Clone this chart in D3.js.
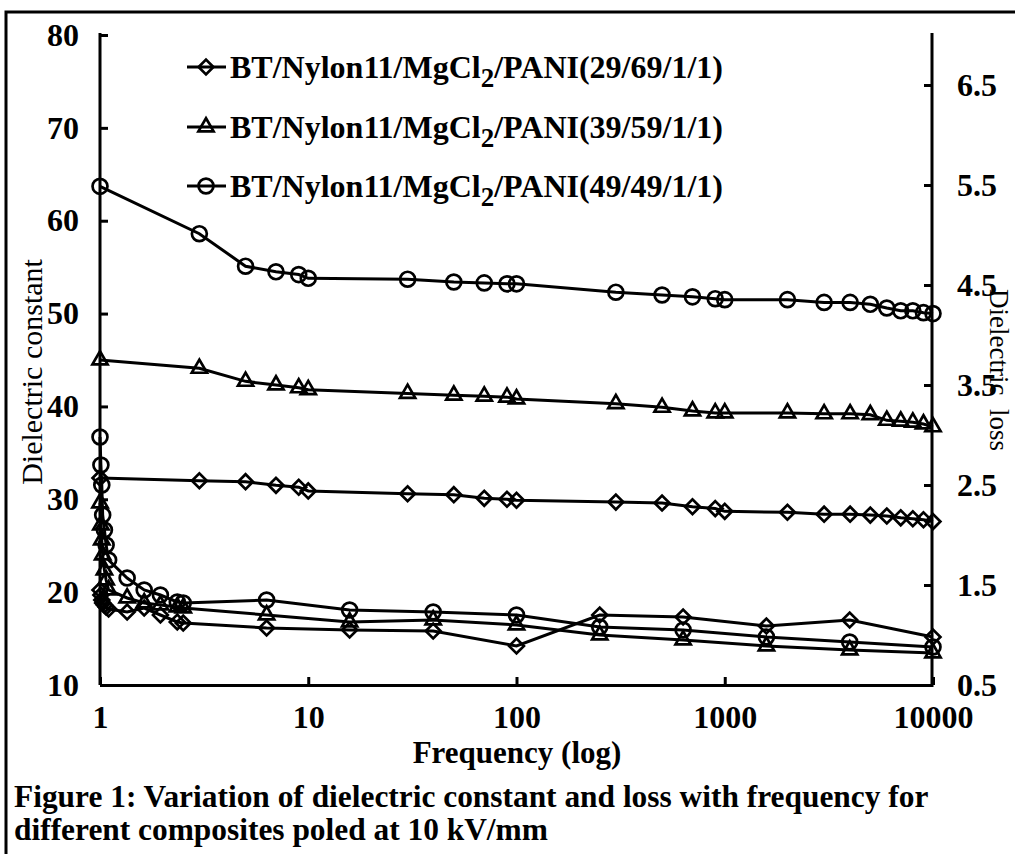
<!DOCTYPE html>
<html>
<head>
<meta charset="utf-8">
<title>Dielectric constant and loss vs frequency</title>
<script src="https://d3js.org/d3.v7.min.js"></script>
<style>
  body { margin: 0; background: #fff; }
  text { font-family: "Liberation Serif", "Times New Roman", serif; fill: #000; }
</style>
</head>
<body>
<script>
// dielectric constant (left axis)
const dcFreq = [1, 3, 5, 7, 9, 10, 30, 50, 70, 90, 100, 300, 500, 700, 900, 1000,
                2000, 3000, 4000, 5000, 6000, 7000, 8000, 9000, 10000];
const dc29 = [32.3, 32.0, 31.9, 31.5, 31.3, 30.9, 30.6, 30.5, 30.1, 30.0, 29.9, 29.7, 29.6,
              29.2, 29.0, 28.7, 28.6, 28.4, 28.4, 28.3, 28.2, 28.0, 27.9, 27.8, 27.6];
const dc39 = [45.0, 44.1, 42.7, 42.3, 42.0, 41.8, 41.4, 41.2, 41.1, 41.0, 40.8, 40.3, 39.9,
              39.5, 39.3, 39.3, 39.3, 39.2, 39.2, 39.1, 38.5, 38.4, 38.3, 38.1, 37.8];
const dc49 = [63.7, 58.6, 55.1, 54.5, 54.2, 53.8, 53.7, 53.4, 53.3, 53.2, 53.2, 52.3, 52.0,
              51.8, 51.6, 51.5, 51.5, 51.2, 51.2, 51.0, 50.6, 50.3, 50.3, 50.1, 50.0];

// dielectric loss (right axis)
const lossFreq = [1, 1.01, 1.02, 1.03, 1.05, 1.07, 1.1, 1.35, 1.63, 1.95, 2.35, 2.51,
                  6.31, 15.8, 39.8, 100, 251, 631, 1585, 3981, 10000];
const loss29 = [1.45, 1.40, 1.35, 1.32, 1.30, 1.28, 1.26, 1.23, 1.27, 1.20, 1.13, 1.12,
                1.07, 1.05, 1.04, 0.89, 1.20, 1.18, 1.09, 1.15, 0.98];
const loss39 = [2.32, 2.10, 1.95, 1.80, 1.65, 1.55, 1.45, 1.37, 1.32, 1.30, 1.28, 1.27,
                1.20, 1.13, 1.15, 1.10, 1.00, 0.95, 0.89, 0.85, 0.82];
const loss49 = [2.98, 2.70, 2.50, 2.20, 2.05, 1.90, 1.75, 1.57, 1.45, 1.40, 1.33, 1.32,
                1.35, 1.25, 1.23, 1.20, 1.08, 1.05, 0.98, 0.93, 0.88];

const xTicks = [1, 10, 100, 1000, 10000];
const leftTicks = [10, 20, 30, 40, 50, 60, 70, 80];
const rightTicks = [0.5, 1.5, 2.5, 3.5, 4.5, 5.5, 6.5];
const seriesNames = ['29/69/1/1', '39/59/1/1', '49/49/1/1'];

const width = 1015, height = 854;
const svg = d3.select('body').append('svg')
    .attr('width', width)
    .attr('height', height);

// frame
svg.append('path')
    .attr('d', 'M6,854 V12 H1015')
    .attr('fill', 'none')
    .attr('stroke', '#000')
    .attr('stroke-width', 3);

const x = d3.scaleLog().domain([1, 10000]).range([100, 933]);
const yL = d3.scaleLinear().domain([10, 80]).range([685, 35]);
const yR = d3.scaleLinear().domain([0.5, 7.0]).range([685, 35]);

function styleAxis(size) {
    return g => {
        g.select('.domain').attr('stroke-width', 3);
        g.selectAll('.tick line').attr('stroke-width', 3);
        g.selectAll('.tick text')
            .attr('font-family', '"Liberation Serif", serif')
            .attr('font-weight', 'bold')
            .attr('font-size', size);
    };
}

svg.append('g')
    .attr('transform', 'translate(0,685)')
    .call(d3.axisBottom(x).tickValues(xTicks).tickFormat(d3.format('d'))
        .tickSize(-8).tickSizeOuter(0).tickPadding(20))
    .call(styleAxis(32));

svg.append('g')
    .attr('transform', 'translate(100,0)')
    .call(d3.axisLeft(yL).tickValues(leftTicks)
        .tickSize(-8).tickSizeOuter(0).tickPadding(21))
    .call(styleAxis(32))
    .call(g => g.select('.domain').attr('d', 'M0,33V685'));

svg.append('g')
    .attr('transform', 'translate(932,0)')
    .call(d3.axisRight(yR).tickValues(rightTicks).tickFormat(d3.format('.1f'))
        .tickSize(-8).tickSizeOuter(0).tickPadding(25))
    .call(styleAxis(32))
    .call(g => g.select('.domain').attr('d', 'M0,33V685'));

// markers
const circleSym = d3.symbol(d3.symbolCircle, 175);
const triSym = d3.symbol(d3.symbolTriangle, 100);
const diaSym = d3.symbol(d3.symbolSquare, 110);
const shapes = [
    { sym: diaSym, rot: 45 },
    { sym: triSym, rot: 0 },
    { sym: circleSym, rot: 0 }
];

function drawSeries(freq, vals, yScale, shape) {
    const pts = freq.map((f, i) => [f, vals[i]]);
    const line = d3.line().x(d => x(d[0])).y(d => yScale(d[1]));
    svg.append('path')
        .datum(pts)
        .attr('d', line)
        .attr('fill', 'none')
        .attr('stroke', '#000')
        .attr('stroke-width', 3);
    svg.append('g').selectAll('path')
        .data(pts)
        .join('path')
        .attr('d', shape.sym())
        .attr('transform', d => `translate(${x(d[0])},${yScale(d[1])}) rotate(${shape.rot})`)
        .attr('fill', 'none')
        .attr('stroke', '#000')
        .attr('stroke-width', 2.7);
}

drawSeries(lossFreq, loss29, yR, shapes[0]);
drawSeries(lossFreq, loss39, yR, shapes[1]);
drawSeries(lossFreq, loss49, yR, shapes[2]);
drawSeries(dcFreq, dc29, yL, shapes[0]);
drawSeries(dcFreq, dc39, yL, shapes[1]);
drawSeries(dcFreq, dc49, yL, shapes[2]);

// legend
const legendY = [67, 127, 186];
seriesNames.forEach((name, i) => {
    const g = svg.append('g').attr('transform', `translate(0,${legendY[i]})`);
    g.append('line')
        .attr('x1', 187).attr('x2', 226)
        .attr('stroke', '#000').attr('stroke-width', 3);
    g.append('path')
        .attr('d', shapes[i].sym())
        .attr('transform', `translate(206,0) rotate(${shapes[i].rot})`)
        .attr('fill', 'none').attr('stroke', '#000').attr('stroke-width', 2.7);
    const t = g.append('text')
        .attr('x', 230).attr('y', 11)
        .attr('font-weight', 'bold')
        .attr('font-size', 32);
    t.append('tspan').text('BT/Nylon11/MgCl');
    t.append('tspan').attr('dy', 9).attr('font-size', 27).text('2');
    t.append('tspan').attr('dy', -9).text('/PANI(' + name + ')');
});

// axis titles
svg.append('text')
    .attr('transform', 'translate(42,372) rotate(-90)')
    .attr('text-anchor', 'middle')
    .attr('font-size', 30)
    .text('Dielectric constant');

svg.append('text')
    .attr('transform', 'translate(990,370) rotate(90)')
    .attr('text-anchor', 'middle')
    .attr('font-size', 27)
    .attr('xml:space', 'preserve')
    .text('Dielectric  loss');

svg.append('text')
    .attr('x', 517).attr('y', 763)
    .attr('text-anchor', 'middle')
    .attr('font-weight', 'bold')
    .attr('font-size', 31)
    .text('Frequency (log)');

// caption
svg.append('text')
    .attr('x', 14).attr('y', 807)
    .attr('font-weight', 'bold')
    .attr('font-size', 31.4)
    .text('Figure 1: Variation of dielectric constant and loss with frequency for');
svg.append('text')
    .attr('x', 14).attr('y', 840)
    .attr('font-weight', 'bold')
    .attr('font-size', 31.4)
    .text('different composites poled at 10 kV/mm');
</script>
</body>
</html>
